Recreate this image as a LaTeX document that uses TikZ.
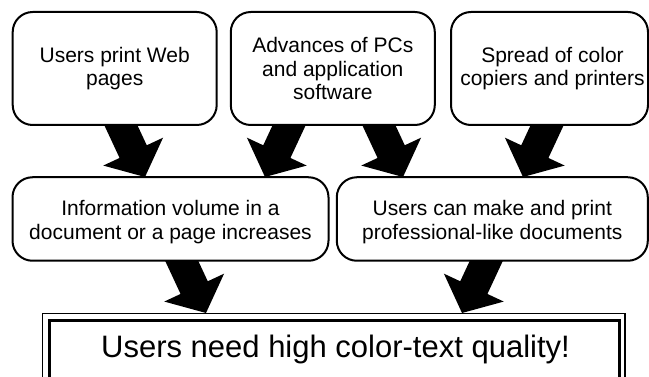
\documentclass[tikz,border=0pt]{standalone}
\usepackage{fontspec}
\setmainfont{Liberation Sans}
\usetikzlibrary{calc}
\tikzset{
  box/.style={draw=black, fill=white, line width=2pt, rounded corners=20pt, align=center,
    inner sep=2pt, font=\fontsize{21}{23.5}\selectfont},
  arrowfill/.style={fill=black}
}
% #1 name prefix, #2 start coordinate, #3 tip coordinate
\newcommand\blockarrow[3]{%
  \coordinate (#1s) at (#2);
  \coordinate (#1t) at (#3);
  \coordinate (#1b) at ($(#1t)!28pt!(#1s)$);
  \fill[arrowfill] ($(#1s)!15pt!90:(#1t)$) -- ($(#1b)!15pt!90:(#1t)$) -- ($(#1b)!33pt!90:(#1t)$)
     -- (#1t) -- ($(#1b)!33pt!-90:(#1t)$) -- ($(#1b)!15pt!-90:(#1t)$) -- ($(#1s)!15pt!-90:(#1t)$) -- cycle;
}
\begin{document}
\begin{tikzpicture}[x=1pt,y=-1pt]
\useasboundingbox (0,0) rectangle (649,377);
% arrows (behind boxes)
\blockarrow{a1}{111.2,104.5}{145,177}
\blockarrow{a2}{298.8,104.5}{265,177}
\blockarrow{a3}{369.2,104.5}{403,177}
\blockarrow{a4}{556.8,104.5}{523,177}
\blockarrow{a5}{172.2,240.5}{206,313}
\blockarrow{a6}{495.8,240.5}{462,313}
% top boxes
\node[box, minimum width=204pt, minimum height=113pt] (b1) at (114.7,68.5) {Users print Web\\pages};
\node[box, minimum width=204pt, minimum height=113pt] (b2) at (332.8,68.5) {Advances of PCs\\and application\\software};
\node[box, minimum width=197pt, minimum height=113pt] (b3) at (549.5,68.5) {\hspace*{6pt}Spread of color\\\hspace*{6pt}copiers and printers};
% middle boxes
\node[box, minimum width=316pt, minimum height=83.5pt] (m1) at (170.5,219) {\rule{0pt}{21pt}Information volume in a\\document or a page increases};
\node[box, minimum width=311pt, minimum height=83.5pt] (m2) at (492.3,219) {\rule{0pt}{21pt}Users can make and print\\professional-like documents};
% bottom double box
\node[draw=black, fill=white, line width=1.2pt, minimum width=582.4pt, minimum height=111.5pt, inner sep=0pt] (outer) at (333.8,369.25) {};
\node[draw=black, line width=3pt, minimum width=570pt, minimum height=99.5pt, inner sep=0pt] (inner) at (334.5,370.25) {};
\node[anchor=base, inner sep=0pt, font=\fontsize{31}{34}\selectfont] (concl) at (335.5,358) {Users need high color-text quality!};
\end{tikzpicture}
\end{document}
